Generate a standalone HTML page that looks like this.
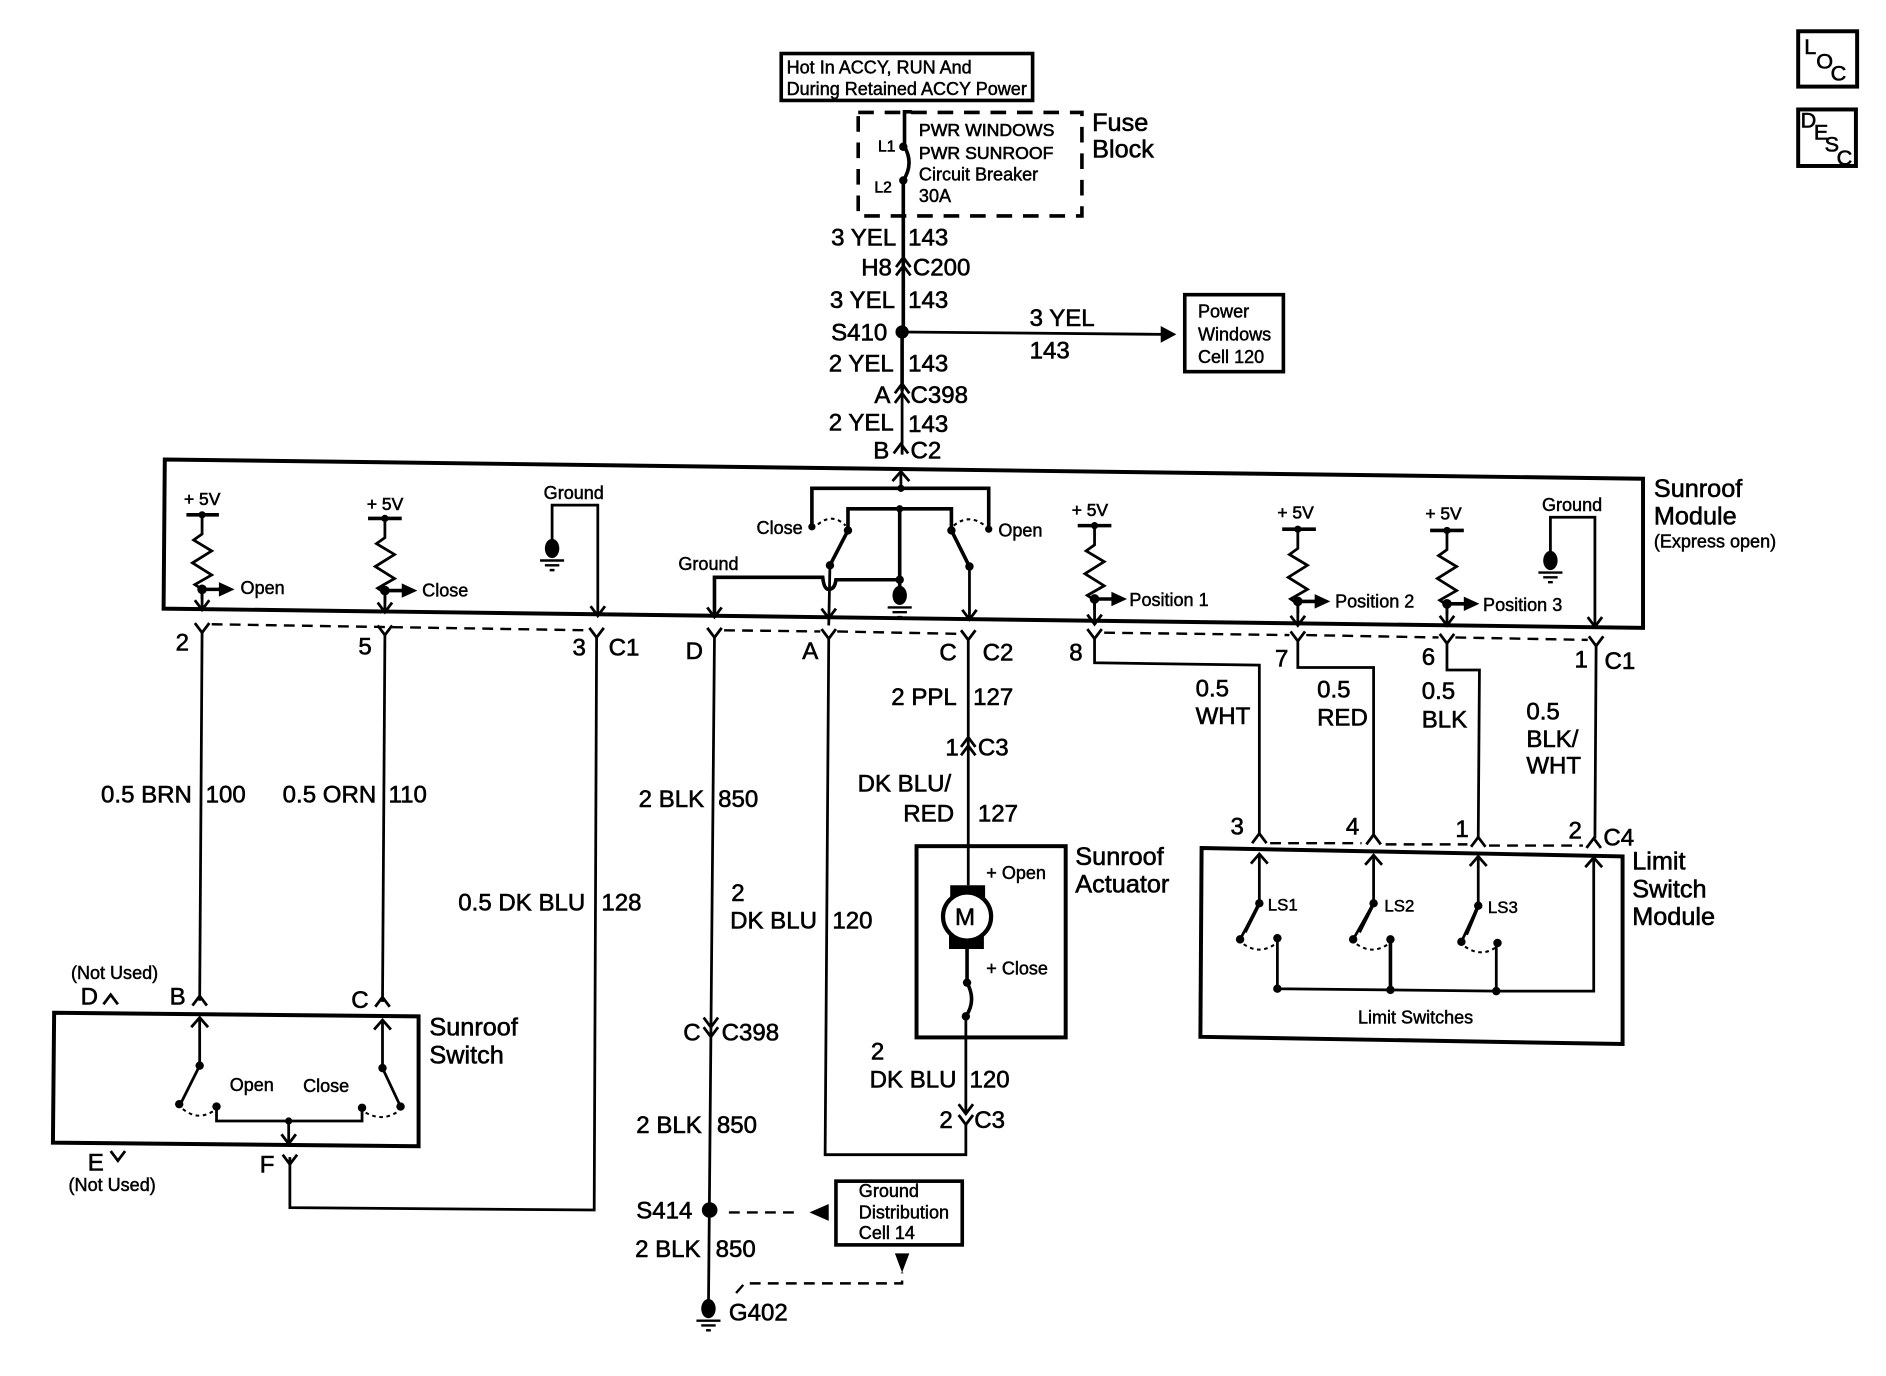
<!DOCTYPE html>
<html><head><meta charset="utf-8"><title>Sunroof schematic</title>
<style>
html,body{margin:0;padding:0;background:#fff}
svg{display:block}
text{font-family:"Liberation Sans",Arial,sans-serif;fill:#000;stroke:#000;stroke-width:.5}
.a{font-size:20px}.b{font-size:21px}.c{font-size:14.7px}.d{font-size:15px;stroke-width:.4}.e{font-size:14.5px}
.w{fill:none;stroke:#000;stroke-width:2.3}
.t{fill:none;stroke:#000;stroke-width:3}
.h{fill:none;stroke:#000;stroke-width:3.3}
.o{fill:none;stroke:#000;stroke-width:1.7;stroke-dasharray:3 3}
.n{fill:none;stroke:#000;stroke-width:2;stroke-dasharray:9 6}
.f{fill:#000;stroke:none}
.s{font-size:18px}
</style></head><body>
<svg xmlns="http://www.w3.org/2000/svg" width="1886" height="1376" viewBox="0 0 1568 1144">
<defs>
<path id="y" class="w" d="M-6,-8L0,0L6,-8"/>
<path id="l" class="w" d="M-6,8L0,0L6,8"/>
<g id="g"><ellipse class="f" cx="0" cy="0" rx="6" ry="8"/><path d="M-10,10H10M-6,14H6M-2,18H2" fill="none" stroke="#000" stroke-width="2"/></g>
<g id="r"><path class="w" d="M0,0V16L-7,21L8,30L-8,40L8,50L-6,58L0,62V70"/></g>
<g id="ar"><path class="t" d="M0,0H16"/><path class="f" d="M14,-6L27,0L14,6Z"/><circle class="f" cx="0" cy="0" r="4"/></g>
<path id="ad" class="w" d="M-6,-8L0,0L6,-8"/>
<path id="au" class="w" d="M-7,8L0,0L7,8"/>
</defs>

<!-- Top -->
<rect class="t" x="649.5" y="44.5" width="209" height="39"/>
<text class="d" x="654" y="61">Hot In ACCY, RUN And</text>
<text class="d" x="654" y="79">During Retained ACCY Power</text>
<rect x="713.5" y="93.5" width="186" height="86" fill="none" stroke="#000" stroke-width="3" stroke-dasharray="13 9"/>
<path class="t" d="M758,93H752V122Q760,136 751,150V276"/>
<circle class="f" cx="751" cy="122" r="3.5"/><circle class="f" cx="751" cy="150" r="3.5"/>
<text style="font-size:13px" x="730" y="126">L1</text><text style="font-size:13px" x="727" y="160">L2</text>
<text class="c" x="764" y="113">PWR WINDOWS</text><text class="c" x="764" y="132">PWR SUNROOF</text>
<text class="d" x="764" y="150">Circuit Breaker</text><text class="d" x="764" y="168">30A</text>
<text class="b" x="908" y="109">Fuse</text><text class="b" x="908" y="131">Block</text>
<text class="a" x="691" y="204">3 YEL</text><text class="a" x="755" y="204">143</text>
<text class="a" x="716" y="229">H8</text><text class="a" x="759" y="229">C200</text>
<use href="#l" x="751" y="214"/><use href="#l" x="751" y="221"/>
<text class="a" x="690" y="256">3 YEL</text><text class="a" x="755" y="256">143</text>
<text class="a" x="691" y="283">S410</text>
<circle class="f" cx="750" cy="276" r="5.5"/>
<path class="w" d="M750,276L968,278"/><path class="f" d="M965,271L978,278L965,285Z"/>
<text class="a" x="856" y="271">3 YEL</text><text class="a" x="856" y="298">143</text>
<rect class="t" x="985" y="245" width="82" height="64"/>
<text class="d" x="996" y="264">Power</text><text class="d" x="996" y="283">Windows</text><text class="d" x="996" y="302">Cell 120</text>
<path class="t" d="M750,276V325"/><path class="w" d="M750,325V378"/>
<text class="a" x="689" y="309">2 YEL</text><text class="a" x="755" y="309">143</text>
<text class="a" x="727" y="335">A</text><text class="a" x="757" y="335">C398</text>
<use href="#l" x="750" y="319"/><use href="#l" x="750" y="327"/>
<text class="a" x="689" y="358">2 YEL</text><text class="a" x="755" y="359">143</text>
<text class="a" x="726" y="381">B</text><text class="a" x="757" y="381">C2</text>
<use href="#l" x="749" y="369"/>

<!-- Sunroof module -->
<path class="h" d="M137,382L1366,398L1366,522L136,506Z"/>
<text class="b" x="1375" y="413">Sunroof</text><text class="b" x="1375" y="436">Module</text><text class="d" x="1375" y="455">(Express open)</text>

<text class="e" x="153" y="420">+ 5V</text><path class="t" d="M155,428H182"/><circle class="f" cx="168" cy="428" r="3"/>
<use href="#r" x="168" y="428"/><use href="#ar" x="168" y="490"/><path class="w" d="M168,490V507"/><use href="#ad" x="168" y="507"/>
<text class="d" x="200" y="494">Open</text>
<text class="e" x="305" y="424">+ 5V</text><path class="t" d="M306,431H334"/><circle class="f" cx="320" cy="431" r="3"/>
<use href="#r" x="320" y="431"/><use href="#ar" x="320" y="491"/><path class="w" d="M320,491V509"/><use href="#ad" x="320" y="509"/>
<text class="d" x="351" y="496">Close</text>
<text class="d" x="452" y="415">Ground</text>
<path class="w" d="M459,452V420H497V512"/><use href="#ad" x="497" y="512"/><use href="#g" x="459" y="456"/>

<use href="#au" x="749" y="392"/><path class="w" d="M749,392V406"/>
<path class="t" d="M675,438V406H822V440"/><circle class="f" cx="749" cy="406" r="3"/>
<path class="t" d="M705,440V423H791V440"/><circle class="f" cx="748" cy="423" r="3"/>
<circle class="f" cx="675" cy="438" r="3"/><circle class="f" cx="822" cy="440" r="3"/>
<circle class="f" cx="705" cy="441" r="3.5"/><circle class="f" cx="791" cy="441" r="3.5"/>
<path class="t" d="M705,441L690,470"/><path class="t" d="M791,441L806,471"/>
<circle class="f" cx="690" cy="470" r="3.5"/><circle class="f" cx="806" cy="471" r="3.5"/>
<path class="w" d="M690,470L689,520"/><path class="w" d="M806,471V513"/>
<use href="#ad" x="689" y="514"/><use href="#ad" x="806" y="515"/>
<path class="o" d="M680,436Q692,426 703,437"/><path class="o" d="M793,437Q806,426 820,438"/>
<path class="t" d="M748,423V490"/>
<path class="t" d="M594,513V480H684Q685,490 689,490Q694,490 695,482H748"/><circle class="f" cx="748" cy="482" r="3.5"/>
<use href="#ad" x="594" y="513"/><use href="#g" x="748" y="495"/>
<text class="d" x="629" y="444">Close</text><text class="d" x="830" y="446">Open</text><text class="d" x="564" y="474">Ground</text>

<text class="e" x="891" y="429">+ 5V</text><path class="t" d="M896,437H924"/><circle class="f" cx="910" cy="437" r="3"/>
<use href="#r" x="910" y="437"/><use href="#ar" x="910" y="498"/><path class="w" d="M910,498V519"/><use href="#ad" x="910" y="519"/>
<text class="d" x="939" y="504">Position 1</text>
<text class="e" x="1062" y="431">+ 5V</text><path class="t" d="M1066,440H1094"/><circle class="f" cx="1079" cy="440" r="3"/>
<use href="#r" x="1079" y="440"/><use href="#ar" x="1079" y="500"/><path class="w" d="M1079,500V520"/><use href="#ad" x="1079" y="520"/>
<text class="d" x="1110" y="505">Position 2</text>
<text class="e" x="1185" y="432">+ 5V</text><path class="t" d="M1189,441H1217"/><circle class="f" cx="1203" cy="441" r="3"/>
<use href="#r" x="1203" y="441"/><use href="#ar" x="1203" y="502"/><path class="w" d="M1203,502V520"/><use href="#ad" x="1203" y="520"/>
<text class="d" x="1233" y="508">Position 3</text>
<text class="d" x="1282" y="425">Ground</text>
<path class="w" d="M1289,462V430H1326V521"/><use href="#ad" x="1326" y="521"/><use href="#g" x="1289" y="466"/>

<!-- Below module connectors -->
<path class="n" d="M176,519L488,524"/><path class="n" d="M602,524L682,525"/><path class="n" d="M696,525L798,527"/>
<path class="n" d="M918,526L1072,528"/><path class="n" d="M1086,528L1196,530"/><path class="n" d="M1210,530L1320,532"/>
<use href="#y" x="168" y="526"/><use href="#y" x="320" y="528"/><use href="#y" x="496" y="530"/>
<use href="#y" x="594" y="530"/><use href="#y" x="689" y="531"/><use href="#y" x="805" y="532"/>
<use href="#y" x="910" y="531"/><use href="#y" x="1079" y="533"/><use href="#y" x="1203" y="535"/><use href="#y" x="1327" y="537"/>
<text class="a" x="146" y="541">2</text><text class="a" x="298" y="544">5</text><text class="a" x="476" y="545">3</text><text class="a" x="506" y="545">C1</text>
<text class="a" x="570" y="548">D</text><text class="a" x="667" y="548">A</text><text class="a" x="781" y="549">C</text><text class="a" x="817" y="549">C2</text>
<text class="a" x="889" y="549">8</text><text class="a" x="1060" y="554">7</text><text class="a" x="1182" y="553">6</text><text class="a" x="1309" y="555">1</text><text class="a" x="1334" y="556">C1</text>

<!-- Wires -->
<path class="w" d="M168,526L166,832"/><path class="w" d="M320,528L318,833"/>
<path class="w" d="M496,530L494,1006L241,1004V962"/>
<path class="w" d="M594,530L589,1087"/>
<path class="w" d="M689,531L686,960H803V935"/>
<path class="w" d="M805,532V736"/>
<text class="a" x="84" y="667">0.5 BRN</text><text class="a" x="171" y="667">100</text>
<text class="a" x="235" y="667">0.5 ORN</text><text class="a" x="323" y="667">110</text>
<text class="a" x="381" y="757">0.5 DK BLU</text><text class="a" x="500" y="757">128</text>
<text class="a" x="531" y="671">2 BLK</text><text class="a" x="597" y="671">850</text>
<text class="a" x="608" y="749">2</text><text class="a" x="607" y="772">DK BLU</text><text class="a" x="692" y="772">120</text>
<text class="a" x="741" y="586">2 PPL</text><text class="a" x="809" y="586">127</text>
<text class="a" x="786" y="628">1</text><text class="a" x="813" y="628">C3</text>
<use href="#l" x="805" y="613"/><use href="#l" x="805" y="620"/>
<text class="a" x="713" y="658">DK BLU/</text><text class="a" x="751" y="683">RED</text><text class="a" x="813" y="683">127</text>

<!-- Motor -->
<rect class="h" x="762" y="703.5" width="124" height="159"/>
<text class="b" x="894" y="719">Sunroof</text><text class="b" x="894" y="742">Actuator</text>
<rect class="f" x="790" y="736" width="29" height="13"/><rect class="f" x="789" y="776" width="29" height="13"/>
<circle cx="804" cy="762" r="20" fill="#fff" stroke="#000" stroke-width="3.5"/>
<text x="794" y="769" style="font-size:20px">M</text>
<text class="d" x="820" y="731">+ Open</text><text class="d" x="820" y="810">+ Close</text>
<path class="t" d="M804,789V817Q812,832 803,845"/><path class="w" d="M803,845V925"/>
<circle class="f" cx="804" cy="817" r="3.5"/><circle class="f" cx="803" cy="845" r="3.5"/>
<text class="a" x="724" y="881">2</text><text class="a" x="723" y="904">DK BLU</text><text class="a" x="806" y="904">120</text>
<use href="#ad" x="803" y="926"/><use href="#ad" x="803" y="935"/>
<text class="a" x="781" y="938">2</text><text class="a" x="810" y="938">C3</text>

<!-- BLK lower -->
<use href="#ad" x="591" y="854"/><use href="#ad" x="591" y="862"/>
<text class="a" x="568" y="865">C</text><text class="a" x="600" y="865">C398</text>
<text class="a" x="529" y="942">2 BLK</text><text class="a" x="596" y="942">850</text>
<text class="a" x="529" y="1013">S414</text><circle class="f" cx="590" cy="1006" r="6.5"/>
<text class="a" x="528" y="1045">2 BLK</text><text class="a" x="595" y="1045">850</text>
<text class="a" x="606" y="1098">G402</text>
<use href="#g" x="589" y="1088"/>
<path class="n" d="M606,1008H662"/><path class="f" d="M690,1001V1015L674,1008Z" transform="translate(-1 0)"/>
<rect class="t" x="695" y="982" width="105" height="53"/>
<text class="d" x="714" y="995">Ground</text><text class="d" x="714" y="1013">Distribution</text><text class="d" x="714" y="1030">Cell 14</text>
<path class="n" d="M612,1075L619,1067H750V1058"/><path class="f" d="M744,1042H756L750,1058Z"/>

<!-- Limit wires -->
<path class="w" d="M910,531V551L1047,553V693"/>
<path class="w" d="M1079,533V555H1142V694"/>
<path class="w" d="M1203,535V557H1230L1229,696"/>
<path class="w" d="M1327,537L1326,697"/>
<text class="a" x="994" y="579">0.5</text><text class="a" x="994" y="602">WHT</text>
<text class="a" x="1095" y="580">0.5</text><text class="a" x="1095" y="603">RED</text>
<text class="a" x="1182" y="581">0.5</text><text class="a" x="1182" y="605">BLK</text>
<text class="a" x="1269" y="598">0.5</text><text class="a" x="1269" y="621">BLK/</text><text class="a" x="1269" y="643">WHT</text>
<text class="a" x="1023" y="694">3</text><text class="a" x="1119" y="694">4</text><text class="a" x="1210" y="696">1</text><text class="a" x="1304" y="697">2</text><text class="a" x="1333" y="703">C4</text>
<use href="#l" x="1047" y="693"/><use href="#l" x="1142" y="694"/><use href="#l" x="1229" y="696"/><use href="#l" x="1325" y="697"/>
<path class="n" d="M1056,701H1132"/><path class="n" d="M1152,702H1220"/><path class="n" d="M1238,703H1316"/>

<!-- Limit switch module -->
<path class="h" d="M999,705L1349,712L1349,868L998,862Z"/>
<text class="b" x="1357" y="723">Limit</text><text class="b" x="1357" y="746">Switch</text><text class="b" x="1357" y="769">Module</text>
<use href="#au" x="1047" y="710"/><use href="#au" x="1142" y="711"/><use href="#au" x="1229" y="712"/><use href="#au" x="1325" y="713"/>
<path class="w" d="M1047,710V751L1031,781"/><path class="t" d="M1047,751L1035,775"/>
<path class="w" d="M1142,711V751L1125,781"/><path class="t" d="M1142,751L1130,775"/>
<path class="w" d="M1229,712V753L1215,783"/><path class="t" d="M1229,753L1219,777"/>
<circle class="f" cx="1047" cy="751" r="3.5"/><circle class="f" cx="1142" cy="751" r="3.5"/><circle class="f" cx="1229" cy="753" r="3.5"/>
<circle class="f" cx="1031" cy="781" r="3.5"/><circle class="f" cx="1125" cy="781" r="3.5"/><circle class="f" cx="1215" cy="783" r="3.5"/>
<circle class="f" cx="1062" cy="780" r="3.5"/><circle class="f" cx="1156" cy="781" r="3.5"/><circle class="f" cx="1245" cy="784" r="3.5"/>
<path class="o" d="M1034,785Q1047,794 1060,785"/><path class="o" d="M1128,785Q1141,794 1154,785"/><path class="o" d="M1218,787Q1231,796 1243,788"/>
<path class="w" d="M1062,780V822L1244,824H1325V713"/><path class="t" d="M1156,781V822"/><path class="w" d="M1244,784V824"/>
<circle class="f" cx="1062" cy="822" r="3.5"/><circle class="f" cx="1156" cy="823" r="3.5"/><circle class="f" cx="1244" cy="824" r="3.5"/>
<text class="d" style="font-size:14px" x="1054" y="757">LS1</text><text class="d" style="font-size:14px" x="1151" y="758">LS2</text><text class="d" style="font-size:14px" x="1237" y="759">LS3</text>
<text class="d" x="1129" y="851">Limit Switches</text>

<!-- Sunroof switch -->
<path class="h" d="M45,842L348,845L348,953L44,950Z"/>
<text class="b" x="357" y="861">Sunroof</text><text class="b" x="357" y="884">Switch</text>
<text class="d" x="59" y="814">(Not Used)</text>
<text class="a" x="67" y="835">D</text><use href="#l" x="92" y="827"/>
<text class="a" x="141" y="835">B</text><use href="#l" x="166" y="828"/>
<text class="a" x="292" y="838">C</text><use href="#l" x="318" y="829"/>
<text class="a" x="73" y="973">E</text><use href="#ad" x="98" y="965"/>
<text class="a" x="216" y="975">F</text><use href="#ad" x="241" y="968"/>
<text class="d" x="57" y="990">(Not Used)</text>
<use href="#au" x="166" y="846"/><use href="#au" x="318" y="848"/>
<path class="w" d="M166,846V886L150,918"/><path class="w" d="M318,848V888L333,920"/>
<circle class="f" cx="166" cy="886" r="3.5"/><circle class="f" cx="318" cy="888" r="3.5"/>
<circle class="f" cx="149" cy="918" r="3.5"/><circle class="f" cx="333" cy="920" r="3.5"/>
<circle class="f" cx="180" cy="920" r="3.5"/><circle class="f" cx="301" cy="921" r="3.5"/>
<path class="o" d="M152,922Q164,932 177,924"/><path class="o" d="M304,925Q318,933 331,924"/>
<path class="w" d="M180,920V932H301V921"/><circle class="f" cx="240" cy="932" r="3"/>
<path class="w" d="M240,932V951"/><use href="#ad" x="240" y="951"/>
<text class="d" x="191" y="907">Open</text><text class="d" x="252" y="908">Close</text>

<!-- LOC / DESC -->
<rect class="h" x="1495" y="26" width="49" height="46"/>
<text class="s" x="1500" y="45">L</text><text class="s" x="1510" y="57">O</text><text class="s" x="1522" y="67">C</text>
<rect class="h" x="1495" y="91" width="48" height="47"/>
<text class="s" x="1497" y="106">D</text><text class="s" x="1508" y="116">E</text><text class="s" x="1517" y="126">S</text><text class="s" x="1527" y="137">C</text>
</svg>
</body></html>
